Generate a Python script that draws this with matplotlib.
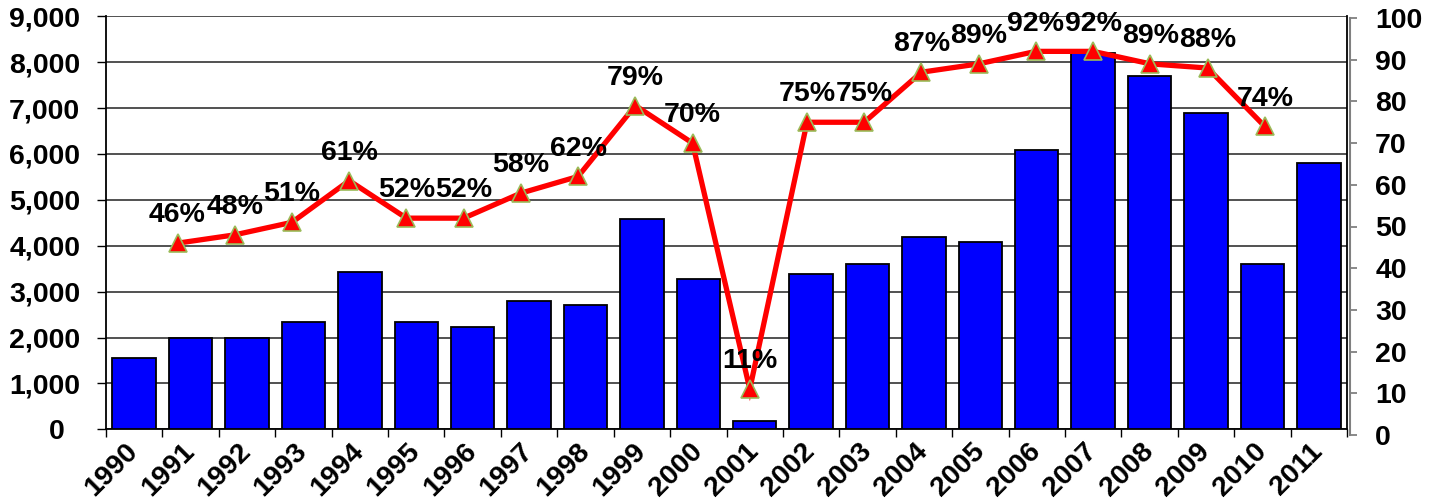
import matplotlib
matplotlib.use("Agg")
import matplotlib.pyplot as plt
from matplotlib.ticker import FixedLocator, NullFormatter

# ---- data ----
years = [1990, 1991, 1992, 1993, 1994, 1995, 1996, 1997, 1998, 1999, 2000,
         2001, 2002, 2003, 2004, 2005, 2006, 2007, 2008, 2009, 2010, 2011]
volumes = [1560, 1980, 1980, 2330, 3430, 2330, 2240, 2800, 2700, 4590, 3280,
           170, 3390, 3610, 4200, 4090, 6090, 8190, 7700, 6890, 3610, 5800]

rate_years = list(range(1991, 2011))
rates = [46, 48, 51, 61, 52, 52, 58, 62, 79, 70,
         11, 75, 75, 87, 89, 92, 92, 89, 88, 74]

left_ticks = [0, 1000, 2000, 3000, 4000, 5000, 6000, 7000, 8000, 9000]
left_labels = ["0  ", "1,000", "2,000", "3,000", "4,000", "5,000",
               "6,000", "7,000", "8,000", "9,000"]
right_ticks = [0, 10, 20, 30, 40, 50, 60, 70, 80, 90, 100]

FONT = "Liberation Sans"
TICK_SIZE = 20.5
W, H = 1436, 503

fig = plt.figure(figsize=(W / 100, H / 100), dpi=100)

# primary axes (bars)
ax = fig.add_axes([106 / W, 1 - 429.3 / H, (1347 - 106) / W, (429.3 - 16.3) / H])
x = list(range(len(years)))
ax.bar(x, volumes, width=0.77, color="#0000FF", edgecolor="black",
       linewidth=1.3, zorder=3)
ax.set_xlim(-0.5, len(years) - 0.5)
ax.set_ylim(0, 9000)

ax.yaxis.set_major_locator(FixedLocator(left_ticks))
ax.set_yticklabels(left_labels, fontfamily=FONT, fontweight="bold",
                   fontsize=TICK_SIZE)
ax.tick_params(axis="y", direction="out", length=6.5, width=1.0,
               color="black", pad=12)
ax.grid(axis="y", color="#222222", linewidth=1.1, zorder=0)

# category boundaries carry the tick marks, centres carry the labels
ax.xaxis.set_major_locator(FixedLocator([i - 0.5 for i in range(len(years) + 1)]))
ax.xaxis.set_major_formatter(NullFormatter())
ax.xaxis.set_minor_locator(FixedLocator(x))
ax.set_xticklabels([str(y) for y in years], minor=True, rotation=45,
                   ha="right", va="center", rotation_mode="anchor",
                   fontfamily=FONT, fontweight="bold", fontsize=TICK_SIZE)
ax.tick_params(axis="x", which="major", direction="out", length=6,
               width=1.0, color="black")
ax.tick_params(axis="x", which="minor", length=0, pad=13)

ax.spines["top"].set_visible(False)
for side in ("left", "bottom", "right"):
    ax.spines[side].set_color("black")
    ax.spines[side].set_linewidth(1.3)

# secondary axes (rate line)
ax2 = fig.add_axes([106 / W, 1 - 435 / H, (1349.5 - 106) / W, (435 - 18) / H])
ax2.patch.set_alpha(0)
ax2.set_xlim(1989.75, 2011.48)
ax2.set_ylim(0, 100)
ax2.plot(rate_years, rates, color="#FF0000", linewidth=3.8, marker="^",
         markersize=13.5, markerfacecolor="#FF0000",
         markeredgecolor="#9BBB59", markeredgewidth=1.2, zorder=4,
         solid_joinstyle="miter")
for yr, r in zip(rate_years, rates):
    ax2.annotate(f"{r}%", (yr, r), xytext=(0, 15), textcoords="offset points",
                 ha="center", va="baseline", fontfamily=FONT,
                 fontweight="bold", fontsize=20.5, color="black", zorder=5)

for side in ("top", "left", "bottom"):
    ax2.spines[side].set_visible(False)
ax2.spines["right"].set_color("#808080")
ax2.spines["right"].set_linewidth(1.5)
ax2.set_xticks([])
ax2.yaxis.tick_right()
ax2.yaxis.set_major_locator(FixedLocator(right_ticks))
ax2.set_yticklabels([str(t) for t in right_ticks], fontfamily=FONT,
                    fontweight="bold", fontsize=TICK_SIZE)
ax2.tick_params(axis="y", direction="out", length=5, width=1.3,
                color="#808080", pad=13.5)

fig.savefig("out.png", dpi=100)
